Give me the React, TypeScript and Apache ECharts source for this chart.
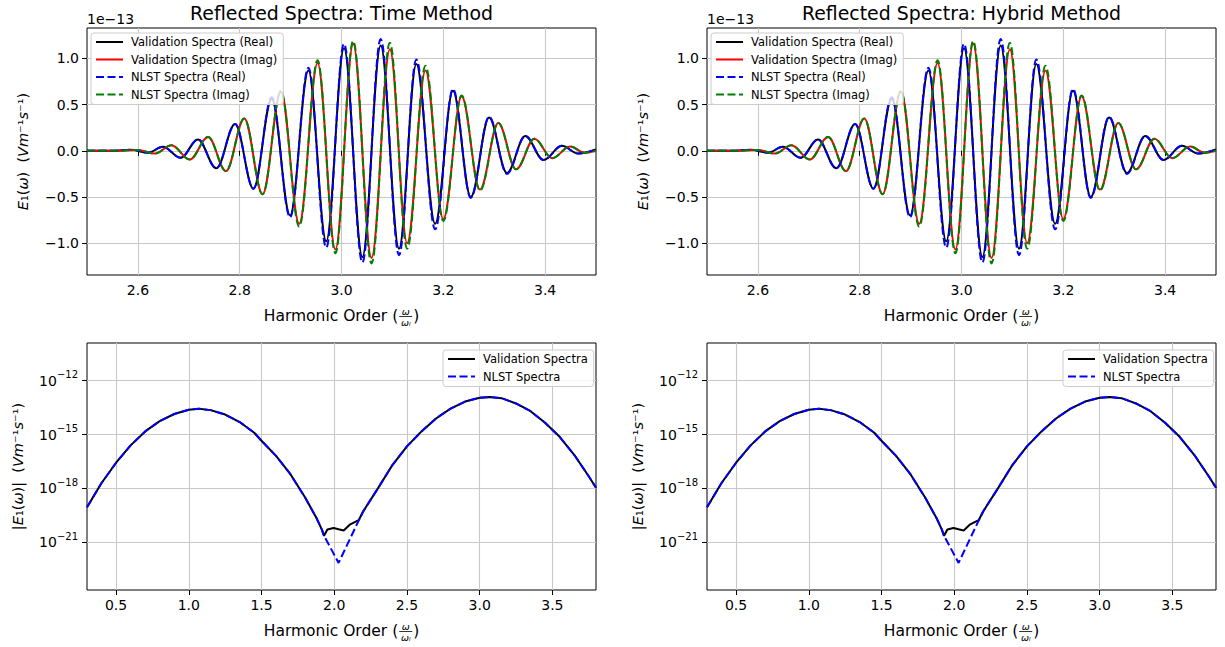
import { useEffect, useRef } from 'react';
import * as echarts from 'echarts';

const FONT = '"DejaVu Sans", Verdana, sans-serif';

// ---------- Top panels: E1(ω) in units of 1e-13, read at each extremum ----------
const realX = [2.50, 2.55, 2.587, 2.62, 2.649, 2.684, 2.718, 2.754, 2.791, 2.827, 2.863, 2.899, 2.935, 2.970, 3.005, 3.041, 3.077, 3.113, 3.147, 3.184, 3.219, 3.254, 3.290, 3.325, 3.361, 3.397, 3.433, 3.465, 3.50];
const validationReal = [0.0, 0.0, 0.012, -0.02, 0.043, -0.076, 0.123, -0.19, 0.29, -0.41, 0.565, -0.70, 0.87, -0.98, 1.11, -1.15, 1.14, -1.06, 0.94, -0.79, 0.65, -0.50, 0.36, -0.24, 0.16, -0.10, 0.054, -0.03, 0.015];
const nlstReal = [0.0, 0.0, 0.012, -0.02, 0.043, -0.076, 0.123, -0.19, 0.29, -0.41, 0.58, -0.72, 0.90, -1.05, 1.16, -1.21, 1.21, -1.13, 0.99, -0.85, 0.67, -0.51, 0.37, -0.25, 0.16, -0.10, 0.054, -0.03, 0.015];

const imagX = [2.50, 2.56, 2.60, 2.633, 2.666, 2.702, 2.738, 2.773, 2.809, 2.845, 2.881, 2.917, 2.953, 2.988, 3.023, 3.059, 3.095, 3.129, 3.165, 3.200, 3.236, 3.272, 3.308, 3.343, 3.379, 3.414, 3.449, 3.478, 3.50];
const validationImag = [0.0, 0.0, 0.01, -0.03, 0.06, -0.094, 0.15, -0.22, 0.35, -0.47, 0.64, -0.79, 0.95, -1.07, 1.16, -1.16, 1.10, -1.00, 0.87, -0.74, 0.59, -0.42, 0.30, -0.20, 0.13, -0.08, 0.047, -0.02, 0.0];
const nlstImag = [0.0, 0.0, 0.01, -0.03, 0.06, -0.094, 0.15, -0.22, 0.35, -0.47, 0.65, -0.82, 0.98, -1.11, 1.19, -1.22, 1.17, -1.06, 0.92, -0.76, 0.60, -0.43, 0.30, -0.20, 0.13, -0.08, 0.047, -0.02, 0.0];

// ---------- Bottom panels: |E1(ω)| ----------
const magX = [0.30, 0.40, 0.50, 0.60, 0.70, 0.80, 0.90, 1.00, 1.07, 1.15, 1.25, 1.35, 1.45, 1.50, 1.60, 1.70, 1.80, 1.88, 1.915, 1.93, 1.953, 1.995, 2.03, 2.065, 2.11, 2.168, 2.20, 2.30, 2.40, 2.50, 2.60, 2.70, 2.80, 2.90, 3.00, 3.07, 3.15, 3.25, 3.35, 3.45, 3.55, 3.65, 3.75, 3.80];
const validationMag = [8.9e-20, 2.0e-18, 2.7e-17, 2.5e-16, 1.5e-15, 5.6e-15, 1.4e-14, 2.4e-14, 2.75e-14, 2.3e-14, 1.3e-14, 5.0e-15, 1.26e-15, 4.5e-16, 6.5e-17, 6.0e-18, 3.1e-19, 2.1e-20, 5.1e-21, 2.3e-21, 5.1e-21, 6.3e-21, 5.3e-21, 4.5e-21, 1.0e-20, 1.7e-20, 5.4e-20, 1.0e-18, 2.0e-17, 2.2e-16, 1.5e-15, 7.9e-15, 2.8e-14, 6.9e-14, 1.12e-13, 1.23e-13, 1.07e-13, 5.4e-14, 2.0e-14, 4.5e-15, 7.5e-16, 7.5e-17, 4.8e-18, 1.1e-18];
const nlstMagX = [0.30, 0.40, 0.50, 0.60, 0.70, 0.80, 0.90, 1.00, 1.07, 1.15, 1.25, 1.35, 1.45, 1.50, 1.60, 1.70, 1.80, 1.88, 1.915, 1.93, 2.03, 2.18, 2.20, 2.30, 2.40, 2.50, 2.60, 2.70, 2.80, 2.90, 3.00, 3.07, 3.15, 3.25, 3.35, 3.45, 3.55, 3.65, 3.75, 3.80];
const nlstMag = [8.9e-20, 2.0e-18, 2.7e-17, 2.5e-16, 1.5e-15, 5.6e-15, 1.4e-14, 2.4e-14, 2.75e-14, 2.3e-14, 1.3e-14, 5.0e-15, 1.26e-15, 4.5e-16, 6.5e-17, 6.0e-18, 3.1e-19, 2.1e-20, 5.1e-21, 2.3e-21, 7.1e-23, 2.6e-20, 5.4e-20, 1.0e-18, 2.0e-17, 2.2e-16, 1.5e-15, 7.9e-15, 2.8e-14, 6.9e-14, 1.12e-13, 1.23e-13, 1.07e-13, 5.4e-14, 2.0e-14, 4.5e-15, 7.5e-16, 7.5e-17, 4.8e-18, 1.1e-18];

// ---------- ticks / labels ----------
const topXTicks = [2.6, 2.8, 3.0, 3.2, 3.4];
const topYTicks = [-1.0, -0.5, 0.0, 0.5, 1.0];
const bottomXTicks = [0.5, 1.0, 1.5, 2.0, 2.5, 3.0, 3.5];
const bottomYTicks = [1e-21, 1e-18, 1e-15, 1e-12];
const titles = ['Reflected Spectra: Time Method', 'Reflected Spectra: Hybrid Method'];
const topNames = ['Validation Spectra (Real)', 'Validation Spectra (Imag)', 'NLST Spectra (Real)', 'NLST Spectra (Imag)'];
const bottomNames = ['Validation Spectra', 'NLST Spectra'];
const offsetText = '1e\u221213';
const xLabelText = 'Harmonic Order (';

const zip = (xs: number[], ys: number[]) => xs.map((x, i) => [x, ys[i]]);
const fmtSigned = (v: number) => (v < 0 ? '\u2212' : '') + Math.abs(v).toFixed(1);

const GRIDS = [
  { left: 87, top: 28, width: 509, height: 247 },
  { left: 707, top: 28, width: 509, height: 247 },
  { left: 87, top: 343, width: 509, height: 247 },
  { left: 707, top: 343, width: 509, height: 247 },
];

const DASH = [8, 3.5];
const XLABEL_SIZE = 15.5;

function measure(text: string, size: number) {
  const c = document.createElement('canvas').getContext('2d')!;
  c.font = `${size}px "DejaVu Sans"`;
  return c.measureText(text).width;
}

function xLabel(cx: number, cy: number) {
  const base = { fontFamily: FONT, fill: '#000' };
  const w = measure(xLabelText, XLABEL_SIZE);
  const fracW = 13;
  const closeW = measure(')', XLABEL_SIZE);
  const total = w + 1 + fracW + 1 + closeW;
  const fx = w + 1 + fracW / 2;
  return {
    type: 'group', x: cx - total / 2, y: cy, silent: true,
    children: [
      { type: 'text', x: 0, y: 0, style: { ...base, text: xLabelText, fontSize: XLABEL_SIZE, textAlign: 'left', textVerticalAlign: 'middle', align: 'left', verticalAlign: 'middle' } },
      { type: 'text', x: fx, y: -5, style: { ...base, text: '\u03c9', fontSize: 9.5, fontStyle: 'italic', textAlign: 'center', textVerticalAlign: 'middle', align: 'center', verticalAlign: 'middle' } },
      { type: 'line', shape: { x1: fx - fracW / 2, y1: 0.5, x2: fx + fracW / 2, y2: 0.5 }, style: { stroke: '#000', lineWidth: 0.8 } },
      { type: 'text', x: fx, y: 6.5, style: { ...base, text: '\u03c9\u2097', fontSize: 9.5, fontStyle: 'italic', textAlign: 'center', textVerticalAlign: 'middle', align: 'center', verticalAlign: 'middle' } },
      { type: 'text', x: w + 2 + fracW, y: 0, style: { ...base, text: ')', fontSize: XLABEL_SIZE, textAlign: 'left', textVerticalAlign: 'middle', align: 'left', verticalAlign: 'middle' } },
    ],
  };
}

function yName(x: number, y: number, abs: boolean) {
  const text = abs
    ? '{n||}{i|E}{n|\u2081(}{i|\u03c9}{n|)|  (}{i|Vm}{n|\u207b\u00b9}{i|s}{n|\u207b\u00b9)}'
    : '{i|E}{n|\u2081(}{i|\u03c9}{n|)  (}{i|Vm}{n|\u207b\u00b9}{i|s}{n|\u207b\u00b9)}';
  return {
    type: 'text', x, y, rotation: Math.PI / 2, silent: true,
    style: {
      text, fontFamily: FONT, fontSize: 14.5, fill: '#000',
      textAlign: 'center', textVerticalAlign: 'middle', align: 'center', verticalAlign: 'middle',
      rich: {
        i: { fontFamily: FONT, fontSize: 14.5, fontStyle: 'italic', fill: '#000' },
        n: { fontFamily: FONT, fontSize: 14.5, fill: '#000' },
      },
    },
  };
}

export default function App() {
  const ref = useRef<HTMLDivElement>(null);
  useEffect(() => {
    document.body.style.margin = '0';
    const chart = echarts.init(ref.current!, undefined, { renderer: 'svg' });

    const axisCommon = {
      axisLine: { show: false },
      axisTick: { show: true, inside: false, length: 5, lineStyle: { color: '#000', width: 1 } },
      splitLine: { show: true, lineStyle: { color: '#c8c8c8', width: 1.1 } },
      axisLabel: { color: '#000', fontFamily: FONT, fontSize: 14, margin: 8 },
    };

    const xAxis: any[] = [];
    const yAxis: any[] = [];
    for (let g = 0; g < 4; g++) {
      const top = g < 2;
      xAxis.push({
        type: 'value', gridIndex: g,
        min: top ? 2.5 : 0.3, max: top ? 3.5 : 3.8,
        ...axisCommon,
        axisTick: { ...axisCommon.axisTick, customValues: top ? topXTicks : bottomXTicks },
        axisLabel: { ...axisCommon.axisLabel, customValues: top ? topXTicks : bottomXTicks, formatter: (v: number) => v.toFixed(1) },
      });
      if (top) {
        yAxis.push({
          type: 'value', gridIndex: g, min: -1.345, max: 1.33,
          ...axisCommon,
          axisTick: { ...axisCommon.axisTick, customValues: topYTicks },
          axisLabel: { ...axisCommon.axisLabel, customValues: topYTicks, formatter: fmtSigned },
        });
      } else {
        yAxis.push({
          type: 'log', logBase: 10, gridIndex: g, min: 2.2e-24, max: 1.26e-10,
          ...axisCommon,
          axisTick: { ...axisCommon.axisTick, customValues: bottomYTicks },
          axisLabel: {
            ...axisCommon.axisLabel, margin: 9, customValues: bottomYTicks,
            formatter: (v: number) => '{b|10}{s|\u2212' + Math.round(-Math.log10(v)) + '}',
            rich: {
              b: { fontFamily: FONT, fontSize: 14, color: '#000', lineHeight: 22 },
              s: { fontFamily: FONT, fontSize: 10, color: '#000', lineHeight: 12, verticalAlign: 'top' },
            },
          },
        });
      }
    }

    const series: any[] = [];
    const line = (name: string, g: number, data: number[][], color: string, dashed: boolean, smooth: boolean) => ({
      type: 'line', name, xAxisIndex: g, yAxisIndex: g, data,
      symbol: 'none', showSymbol: false,
      smooth: smooth ? 0.36 : false, smoothMonotone: smooth ? 'x' : undefined,
      lineStyle: { color, width: 2, type: dashed ? DASH : 'solid' },
      itemStyle: { color },
      emphasis: { disabled: true },
    });
    for (let g = 0; g < 2; g++) {
      series.push(line(topNames[0], g, zip(realX, validationReal), '#000000', false, true));
      series.push(line(topNames[1], g, zip(imagX, validationImag), '#ff0000', false, true));
      series.push(line(topNames[2], g, zip(realX, nlstReal), '#0000ff', true, true));
      series.push(line(topNames[3], g, zip(imagX, nlstImag), '#008000', true, true));
    }
    for (let g = 2; g < 4; g++) {
      series.push(line(bottomNames[0], g, zip(magX, validationMag), '#000000', false, false));
      series.push(line(bottomNames[1], g, zip(nlstMagX, nlstMag), '#0000ff', true, false));
    }

    const legendCommon = {
      orient: 'vertical', itemWidth: 27, itemHeight: 12, itemGap: 5.5,
      padding: [3, 6, 4, 4], backgroundColor: 'rgba(255,255,255,0.8)',
      borderColor: '#cccccc', borderWidth: 1, borderRadius: 3,
      selectedMode: false,
      itemStyle: { opacity: 0 },
      textStyle: { fontFamily: FONT, fontSize: 11.5, color: '#000', padding: [0, 0, 0, 3] },
    };
    const legend = [
      { ...legendCommon, left: 91, top: 33, data: topNames },
      { ...legendCommon, left: 711, top: 33, data: topNames },
      { ...legendCommon, left: 443, top: 350, data: bottomNames },
      { ...legendCommon, left: 1063, top: 350, data: bottomNames },
    ];

    const graphic: any[] = [];
    [0, 1].forEach((k) => {
      const gx = GRIDS[k];
      const cx = gx.left + gx.width / 2;
      graphic.push({ type: 'text', x: cx, y: 13, silent: true, style: { text: titles[k], fontFamily: FONT, fontSize: 18.9, fill: '#000', textAlign: 'center', textVerticalAlign: 'middle', align: 'center', verticalAlign: 'middle' } });
      graphic.push({ type: 'text', x: gx.left, y: 19, silent: true, style: { text: offsetText, fontFamily: FONT, fontSize: 14, fill: '#000', textAlign: 'left', textVerticalAlign: 'middle', align: 'left', verticalAlign: 'middle' } });
      graphic.push(xLabel(cx, 316));
      graphic.push(yName(gx.left - 64, gx.top + gx.height / 2, false));
      const gb = GRIDS[k + 2];
      graphic.push(xLabel(gb.left + gb.width / 2, 631));
      graphic.push(yName(gb.left - 69, gb.top + gb.height / 2, true));
    });

    chart.setOption({
      animation: false,
      backgroundColor: '#ffffff',
      textStyle: { fontFamily: FONT },
      grid: GRIDS.map((g) => ({ ...g, show: true, borderColor: '#000', borderWidth: 1, backgroundColor: 'transparent', containLabel: false })),
      xAxis, yAxis, series, legend, graphic,
    });
    return () => chart.dispose();
  }, []);
  return <div ref={ref} style={{ position: 'absolute', left: 0, top: 0, width: 1225, height: 647 }} />;
}
